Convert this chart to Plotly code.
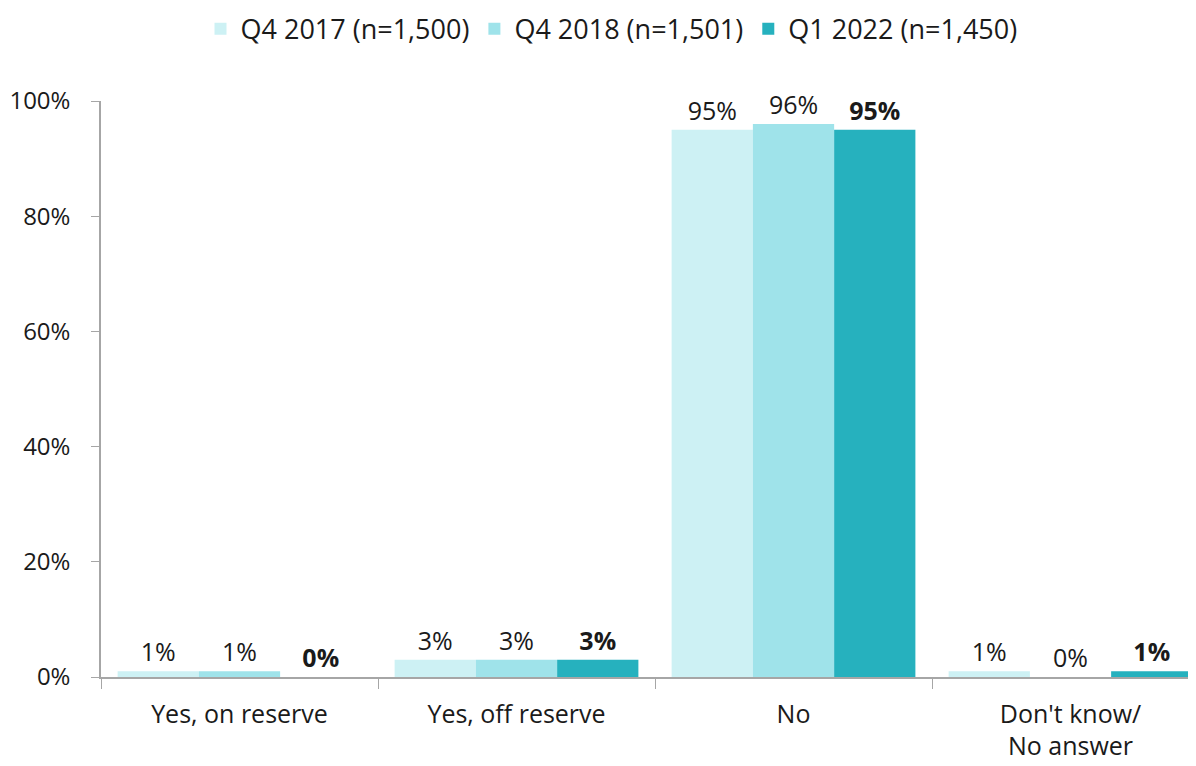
import plotly.graph_objects as go

categories = ["Yes, on reserve", "Yes, off reserve", "No", "Don't know/<br>No answer"]
series_names = ["Q4 2017 (n=1,500)", "Q4 2018 (n=1,501)", "Q1 2022 (n=1,450)"]
q4_2017 = [0.01, 0.03, 0.95, 0.01]
q4_2018 = [0.01, 0.03, 0.96, 0.00]
q1_2022 = [0.00, 0.03, 0.95, 0.01]
colors = ["#cdf1f4", "#9fe3ea", "#26b1be"]
bold = [False, False, True]

FONT = "'Open Sans', sans-serif"

fig = go.Figure()
for name, vals, col, b in zip(series_names, [q4_2017, q4_2018, q1_2022], colors, bold):
    tmpl = "<b>%{y:.0%}</b>" if b else "%{y:.0%}"
    fig.add_trace(go.Bar(
        x=categories, y=vals, name=name, marker_color=col, marker_line_width=0,
        texttemplate=tmpl, textposition="outside", cliponaxis=False,
        textfont=dict(size=25, color="#1a1a1a", family=FONT),
    ))

fig.update_layout(
    width=1188, height=758,
    paper_bgcolor="white", plot_bgcolor="white",
    barmode="group", bargap=0.12, bargroupgap=0,
    margin=dict(l=93, r=0, t=93, b=89, autoexpand=False),
    font=dict(family=FONT, size=25, color="#1a1a1a"),
    legend=dict(orientation="h", xref="container", x=0.508, xanchor="center",
                yref="container", y=0.972, yanchor="middle",
                font=dict(size=27), itemwidth=30, traceorder="normal"),
    showlegend=True,
)
fig.update_xaxes(
    range=[-0.5, 3.453], showline=True, linecolor="#a6a6a6", linewidth=1.5,
    ticks="outside", tickson="boundaries", ticklen=10, tickcolor="#a6a6a6",
    showgrid=False, tickfont=dict(size=25), automargin=False, ticklabelstandoff=14,
)
fig.update_yaxes(
    range=[0, 1], tickformat=".0%", dtick=0.2, showline=True, linecolor="#a6a6a6",
    linewidth=1.5, ticks="outside", ticklen=8, tickcolor="#a6a6a6",
    showgrid=False, zeroline=False, tickfont=dict(size=24), automargin=False,
    ticklabelstandoff=16,
)

fig.write_html("out.html")
